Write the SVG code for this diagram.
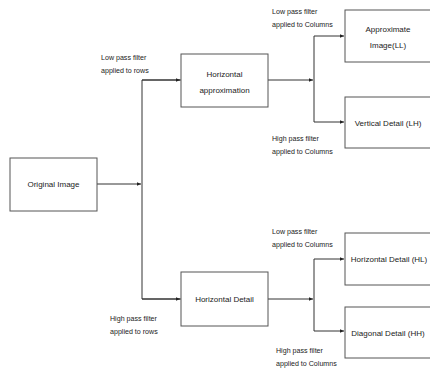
<svg xmlns="http://www.w3.org/2000/svg" width="430" height="368" viewBox="0 0 430 368">
<style>
.box{fill:#fff;stroke:#555;stroke-width:1}
.t{font-family:"Liberation Sans",Arial,sans-serif;font-size:8px;fill:#222;text-anchor:middle}
.l{font-family:"Liberation Sans",Arial,sans-serif;font-size:7.1px;fill:#222}
.c{fill:none;stroke:#333;stroke-width:1}
</style>
<defs>
<marker id="ah" markerWidth="5" markerHeight="5" refX="4.5" refY="2.5" orient="auto" markerUnits="userSpaceOnUse">
<path d="M0,0.5 L4.5,2.5 L0,4.5 Z" fill="#222"/>
</marker>
</defs>
<rect width="430" height="368" fill="#fff"/>
<g id="connectors">
<path class="c" d="M97,184 H141" marker-end="url(#ah)"/>
<path class="c" d="M181,80 H142 V299 H181" />
<path class="c" d="M142,80 H180" marker-end="url(#ah)"/>
<path class="c" d="M142,299 H180" marker-end="url(#ah)"/>
<path class="c" d="M268,80 H313" marker-end="url(#ah)"/>
<path class="c" d="M314,36 V122"/>
<path class="c" d="M314,36 H344" marker-end="url(#ah)"/>
<path class="c" d="M314,122 H344" marker-end="url(#ah)"/>
<path class="c" d="M268,299 H313" marker-end="url(#ah)"/>
<path class="c" d="M314,259 V331"/>
<path class="c" d="M314,259 H344" marker-end="url(#ah)"/>
<path class="c" d="M314,331 H344" marker-end="url(#ah)"/>
</g>
<g id="labels">
<text class="l" x="101" y="59.5">Low pass filter</text>
<text class="l" x="101" y="72.5">applied to rows</text>
<text class="l" x="110" y="320.5">High pass filter</text>
<text class="l" x="110" y="333.5">applied to rows</text>
<text class="l" x="272" y="13.5">Low pass filter</text>
<text class="l" x="272" y="26.5">applied to Columns</text>
<text class="l" x="272" y="140.5">High pass filter</text>
<text class="l" x="272" y="153.5">applied to Columns</text>
<text class="l" x="272" y="233.5">Low pass filter</text>
<text class="l" x="272" y="246.5">applied to Columns</text>
<text class="l" x="276" y="352.5">High pass filter</text>
<text class="l" x="276" y="365.5">applied to Columns</text>
</g>
<g id="original">
<rect class="box" x="10" y="158" width="87" height="53"/>
<text class="t" x="53.5" y="187">Original Image</text>
</g>
<g id="h-approx">
<rect class="box" x="181" y="54" width="87" height="53"/>
<text class="t" x="224.5" y="77">Horizontal</text>
<text class="t" x="224.5" y="93">approximation</text>
</g>
<g id="h-detail">
<rect class="box" x="181" y="272" width="87" height="54"/>
<text class="t" x="224.5" y="302">Horizontal Detail</text>
</g>
<g id="ll">
<rect class="box" x="345" y="10" width="90" height="52"/>
<text class="t" x="388" y="32">Approximate</text>
<text class="t" x="388" y="48">Image(LL)</text>
</g>
<g id="lh">
<rect class="box" x="345" y="97" width="90" height="51"/>
<text class="t" x="388" y="125.5">Vertical Detail (LH)</text>
</g>
<g id="hl">
<rect class="box" x="345" y="233" width="90" height="52"/>
<text class="t" x="389" y="262">Horizontal Detail (HL)</text>
</g>
<g id="hh">
<rect class="box" x="345" y="307" width="90" height="51"/>
<text class="t" x="388" y="335.5">Diagonal Detail (HH)</text>
</g>
</svg>
